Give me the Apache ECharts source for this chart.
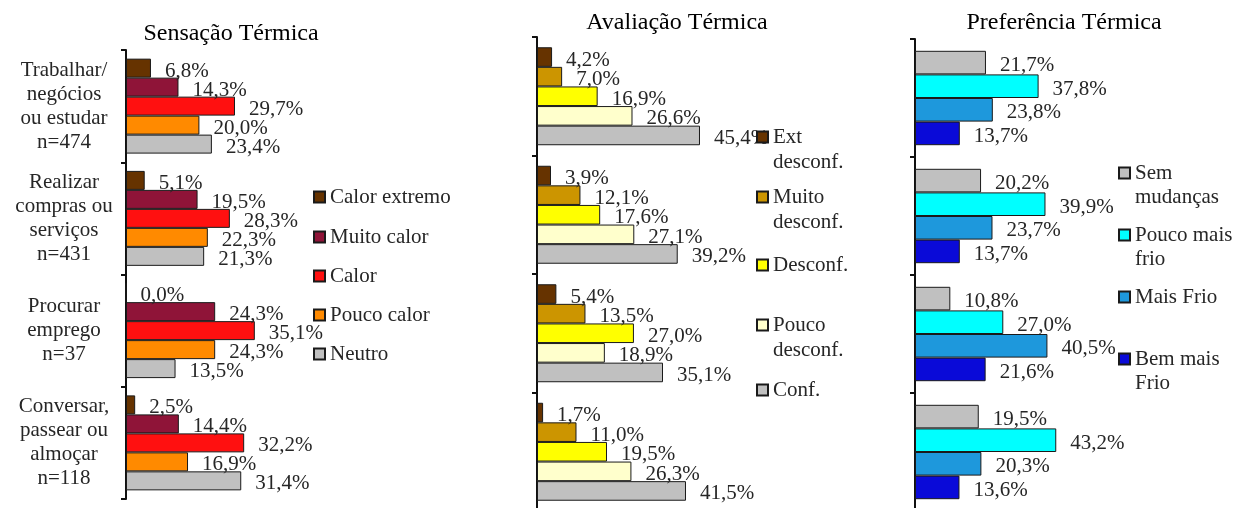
<!DOCTYPE html>
<html>
<head>
<meta charset="utf-8">
<script src="https://cdn.jsdelivr.net/npm/echarts@6/dist/echarts.min.js"></script>
<style>
  html, body { margin: 0; padding: 0; background: #ffffff; }
  #chart { width: 1239px; height: 508px; }
</style>
</head>
<body>
<div id="chart"></div>
<script>
// ---- Data -------------------------------------------------------------
const activities = [
  'Trabalhar/\nnegócios\nou estudar\nn=474',
  'Realizar\ncompras ou\nserviços\nn=431',
  'Procurar\nemprego\nn=37',
  'Conversar,\npassear ou\nalmoçar\nn=118'
];

// Sensação Térmica (%)
const sensationNames = ['Calor extremo', 'Muito calor', 'Calor', 'Pouco calor', 'Neutro'];
const calorExtremo = [6.8, 5.1, 0.0, 2.5];
const muitoCalor   = [14.3, 19.5, 24.3, 14.4];
const calor        = [29.7, 28.3, 35.1, 32.2];
const poucoCalor   = [20.0, 22.3, 24.3, 16.9];
const neutro       = [23.4, 21.3, 13.5, 31.4];

// Avaliação Térmica (%)
const evaluationNames = ['Ext desconf.', 'Muito desconf.', 'Desconf.', 'Pouco desconf.', 'Conf.'];
const extDesconf    = [4.2, 3.9, 5.4, 1.7];
const muitoDesconf  = [7.0, 12.1, 13.5, 11.0];
const desconf       = [16.9, 17.6, 27.0, 19.5];
const poucoDesconf  = [26.6, 27.1, 18.9, 26.3];
const conf          = [45.4, 39.2, 35.1, 41.5];

// Preferência Térmica (%)
const preferenceNames = ['Sem mudanças', 'Pouco mais frio', 'Mais Frio', 'Bem mais Frio'];
const semMudancas   = [21.7, 20.2, 10.8, 19.5];
const poucoMaisFrio = [37.8, 39.9, 27.0, 43.2];
const maisFrio      = [23.8, 23.7, 40.5, 20.3];
const bemMaisFrio   = [13.7, 13.7, 21.6, 13.6];

const panelTitles = ['Sensação Térmica', 'Avaliação Térmica', 'Preferência Térmica'];

// ---- Styling & layout -------------------------------------------------
const FONT = "'Liberation Serif', 'Times New Roman', serif";
const TEXT = '#262626';

const sensationColors  = ['#663300', '#8f1438', '#ff1010', '#ff8a00', '#c0c0c0'];
const evaluationColors = ['#663300', '#cc9500', '#ffff00', '#ffffcc', '#c0c0c0'];
const preferenceColors = ['#c0c0c0', '#00ffff', '#1e98dc', '#0a0ad8'];

// one grid per panel: left edge (axis), top, plot width, plot height, bar gap
const panels = [
  { left: 126, top: 50, width: 183.5, height: 449, gap: '15.4%' },
  { left: 537, top: 37, width: 179.5, height: 474, gap: '17.3%' },
  { left: 915, top: 39, width: 163.5, height: 472, gap: '20%' }
];

// title centres
const titlePos = [[231, 22], [677, 11], [1064, 11]];

// legend entries: series name, displayed lines, icon left, icon centre y, line height
const legendLayout = [
  ['Calor extremo', ['Calor extremo'], 313, 197, 25],
  ['Muito calor', ['Muito calor'], 313, 237, 25],
  ['Calor', ['Calor'], 313, 276, 25],
  ['Pouco calor', ['Pouco calor'], 313, 315, 25],
  ['Neutro', ['Neutro'], 313, 354, 25],
  ['Ext desconf.', ['Ext', 'desconf.'], 756, 137, 25],
  ['Muito desconf.', ['Muito', 'desconf.'], 756, 197, 25],
  ['Desconf.', ['Desconf.'], 756, 265, 25],
  ['Pouco desconf.', ['Pouco', 'desconf.'], 756, 325, 25],
  ['Conf.', ['Conf.'], 756, 390, 25],
  ['Sem mudanças', ['Sem', 'mudanças'], 1118, 173, 24],
  ['Pouco mais frio', ['Pouco mais', 'frio'], 1118, 235, 24],
  ['Mais Frio', ['Mais Frio'], 1118, 297, 24],
  ['Bem mais Frio', ['Bem mais', 'Frio'], 1118, 359, 24]
];

// ---- Build option -----------------------------------------------------
const pct = v => v.toFixed(1).replace('.', ',') + '%';

function barSeries(names, arrays, colors, gridIndex) {
  return names.map((name, i) => ({
    type: 'bar',
    name: name,
    xAxisIndex: gridIndex,
    yAxisIndex: gridIndex,
    data: arrays[i],
    barGap: '0%',
    barCategoryGap: panels[gridIndex].gap,
    itemStyle: { color: colors[i], borderColor: '#1a1a1a', borderWidth: 1 },
    label: {
      show: true,
      position: 'right',
      distance: 14,
      offset: [0, 3],
      color: TEXT,
      fontFamily: FONT,
      fontSize: 21,
      formatter: p => pct(p.value)
    },
    emphasis: { disabled: true }
  }));
}

const series = [].concat(
  barSeries(sensationNames, [calorExtremo, muitoCalor, calor, poucoCalor, neutro], sensationColors, 0),
  barSeries(evaluationNames, [extDesconf, muitoDesconf, desconf, poucoDesconf, conf], evaluationColors, 1),
  barSeries(preferenceNames, [semMudancas, poucoMaisFrio, maisFrio, bemMaisFrio], preferenceColors, 2)
);

const grid = panels.map(p => ({
  left: p.left, top: p.top, width: p.width, height: p.height,
  outerBoundsMode: 'none', containLabel: false
}));

const xAxis = panels.map((p, i) => ({
  type: 'value', gridIndex: i, min: 0, max: 50, show: false
}));

const yAxis = panels.map((p, i) => ({
  type: 'category',
  gridIndex: i,
  inverse: true,
  data: activities,
  axisLine: { show: true, lineStyle: { color: '#111', width: 2 } },
  axisTick: { show: true, length: 5, lineStyle: { color: '#111', width: 2 } },
  splitLine: { show: false },
  axisLabel: i === 0 ? {
    show: true,
    align: 'center',
    margin: 62,
    fontFamily: FONT,
    fontSize: 21,
    lineHeight: 24,
    color: TEXT
  } : { show: false }
}));

const title = panelTitles.map((t, i) => ({
  text: t,
  left: titlePos[i][0],
  top: titlePos[i][1],
  textAlign: 'center',
  padding: 0,
  textStyle: { fontFamily: FONT, fontSize: 24, fontWeight: 'normal', color: '#000' }
}));

const legend = legendLayout.map(([name, lines, left, cy, lh]) => {
  const twoLines = lines.length > 1;
  const textStyle = {
    fontFamily: FONT, fontSize: 21, color: TEXT, lineHeight: lh,
    backgroundColor: 'rgba(0,0,0,0)'
  };
  if (twoLines) {
    textStyle.padding = [lh, 0, 0, 0];
    textStyle.rich = { t: { fontFamily: FONT, fontSize: 21, color: TEXT, lineHeight: lh } };
  }
  return {
    data: [name],
    left: left,
    top: twoLines ? cy - 1.5 * lh : cy - lh / 2,
    padding: 0,
    itemWidth: 11,
    itemHeight: 11,
    icon: 'rect',
    selectedMode: false,
    textStyle: textStyle,
    formatter: () => twoLines ? lines.map(s => '{t|' + s + '}').join('\n') : lines[0]
  };
});

const option = {
  animation: false,
  backgroundColor: '#ffffff',
  title, grid, xAxis, yAxis, legend, series
};

const chart = echarts.init(document.getElementById('chart'), null, { renderer: 'canvas' });
chart.setOption(option);
</script>
</body>
</html>
